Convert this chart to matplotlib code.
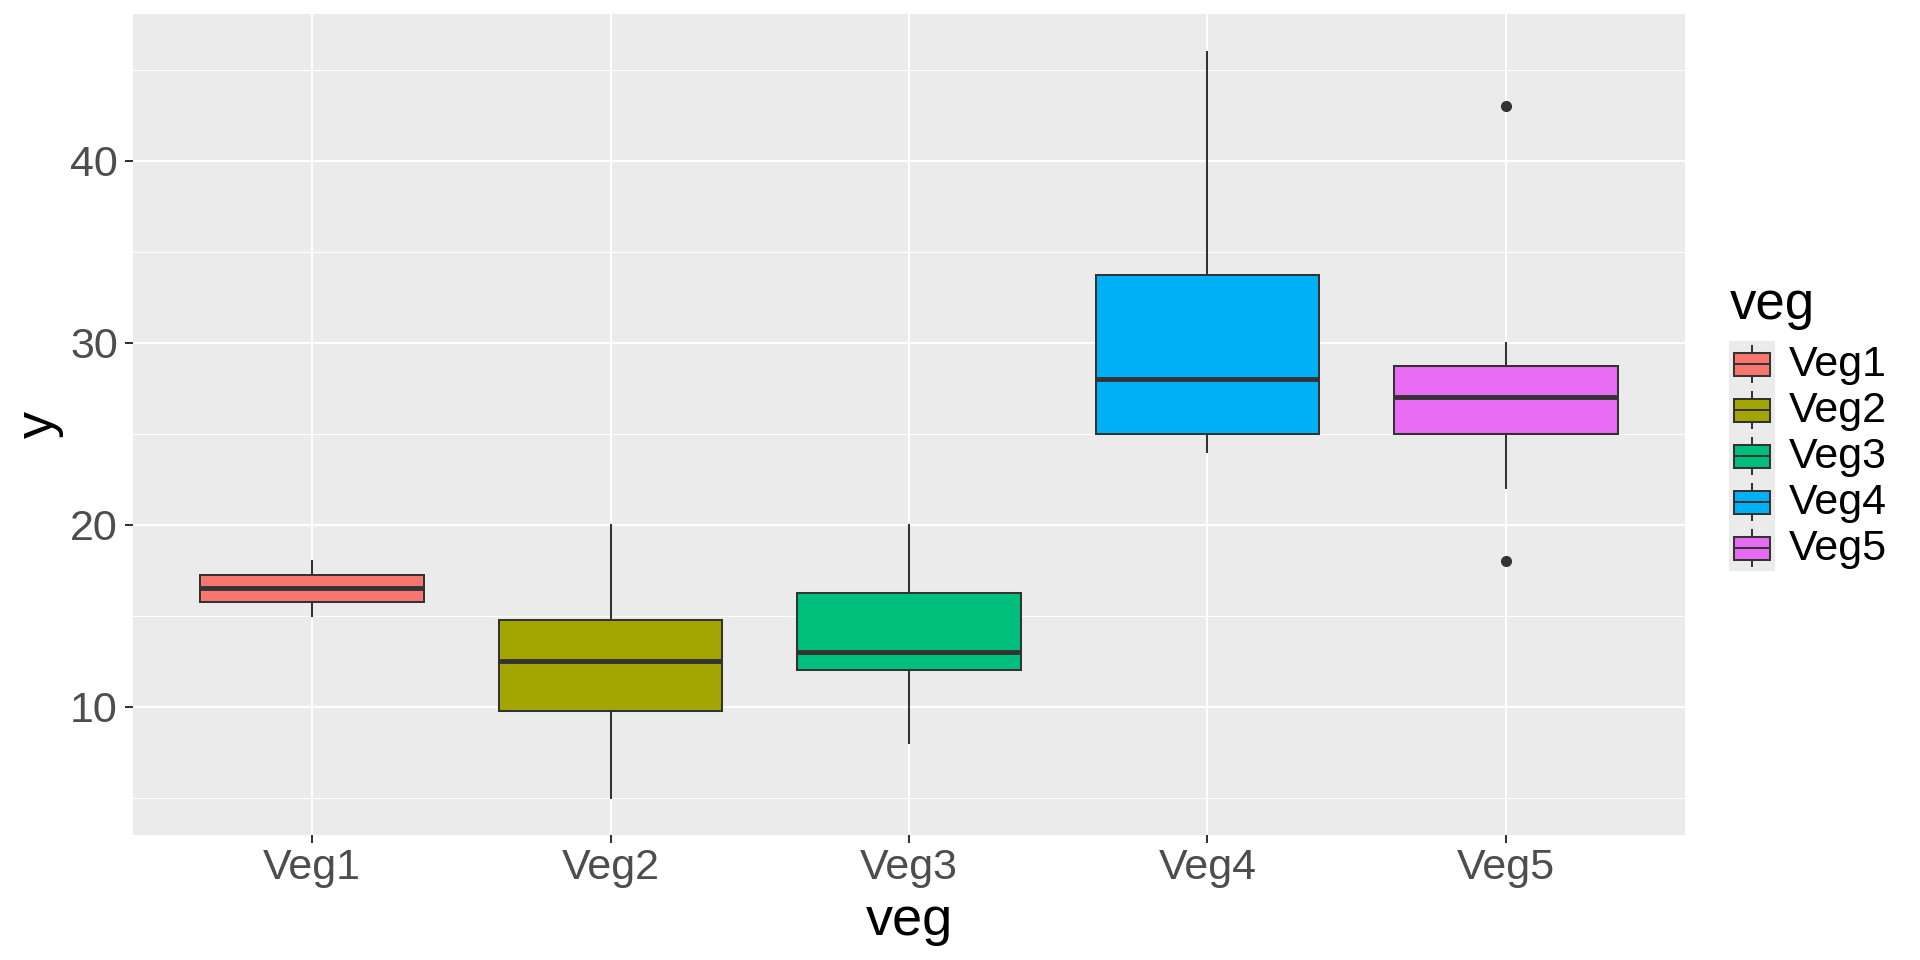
import matplotlib
matplotlib.use("Agg")
import matplotlib.pyplot as plt
from matplotlib.patches import Rectangle
from matplotlib.ticker import FixedLocator

plt.rcParams['font.family'] = ['Liberation Sans', 'DejaVu Sans']

# ---- data ----
categories = ["Veg1", "Veg2", "Veg3", "Veg4", "Veg5"]
whisker_low = [15, 5, 8, 24, 22]
q1 = [15.75, 9.75, 12, 25, 25]
medians = [16.5, 12.5, 13, 28, 27]
q3 = [17.25, 14.75, 16.25, 33.75, 28.75]
whisker_high = [18, 20, 20, 46, 30]
outliers = [[], [], [], [], [43, 18]]
colors = ["#F8766D", "#A3A500", "#00BF7D", "#00B0F6", "#E76BF3"]
y_ticks = [10, 20, 30, 40]
y_minor = [5, 15, 25, 35, 45]
x_title = "veg"
y_title = "y"
legend_title = "veg"

W, H = 1920, 960
fig = plt.figure(figsize=(W / 100, H / 100), dpi=100)
fig.patch.set_facecolor("white")

pl, pr, pt, pb = 133, 1685, 14.5, 835
ax = fig.add_axes([pl / W, 1 - pb / H, (pr - pl) / W, (pb - pt) / H])
ax.set_facecolor("#EBEBEB")
for s in ax.spines.values():
    s.set_visible(False)

positions = list(range(1, len(categories) + 1))
stats = []
for i, c in enumerate(categories):
    stats.append(dict(label=c, med=medians[i], q1=q1[i], q3=q3[i],
                      whislo=whisker_low[i], whishi=whisker_high[i],
                      fliers=outliers[i]))

edge = "#333333"
bp = ax.bxp(stats, positions=positions, widths=0.75, patch_artist=True,
            showcaps=False,
            boxprops=dict(edgecolor=edge, linewidth=1.45),
            whiskerprops=dict(color=edge, linewidth=1.45),
            medianprops=dict(color=edge, linewidth=3.5, solid_capstyle="butt"),
            flierprops=dict(marker="o", markerfacecolor=edge, markeredgecolor=edge,
                            markersize=7, linestyle="none"),
            zorder=3)
for patch, col in zip(bp["boxes"], colors):
    patch.set_facecolor(col)

ax.set_xlim(0.4, len(categories) + 0.6)
ymin, ymax = 5, 46
rng = ymax - ymin
ax.set_ylim(ymin - 0.05 * rng, ymax + 0.05 * rng)

ax.set_xticks(positions)
ax.set_xticklabels(categories)
ax.set_yticks(y_ticks)
ax.set_yticklabels([str(t) for t in y_ticks])
ax.yaxis.set_minor_locator(FixedLocator(y_minor))

ax.grid(True, which="major", color="white", linewidth=1.45, zorder=0)
ax.grid(True, which="minor", axis="y", color="white", linewidth=0.75, zorder=0)
ax.set_axisbelow(True)

ax.tick_params(axis="both", which="major", length=5.5, width=1.45, color=edge,
               labelsize=31, labelcolor="#4D4D4D")
ax.tick_params(axis="x", pad=3.5)
ax.tick_params(axis="y", pad=5.5)
ax.tick_params(axis="y", which="minor", length=0)

ax.set_xlabel(x_title, fontsize=39, color="black", va="baseline")
ax.xaxis.set_label_coords(0.5, (pb - 935) / (pb - pt))
ax.set_ylabel(y_title, fontsize=39, color="black", va="baseline")
ax.yaxis.set_label_coords((53 - pl) / (pr - pl), 0.5)

# ---- legend (ggplot-like) ----
kx, ky_top, kw, kh = 1729, 341, 46, 46
n = len(categories)
lax = fig.add_axes([kx / W, 1 - (ky_top + n * kh) / H, kw / W, n * kh / H])
lax.set_facecolor("#EBEBEB")
lax.set_xlim(0, 1)
lax.set_ylim(n, 0)
lax.set_xticks([])
lax.set_yticks([])
for s in lax.spines.values():
    s.set_visible(False)
for i, col in enumerate(colors):
    lax.add_patch(Rectangle((0.1, i + 0.25), 0.8, 0.5, facecolor=col,
                            edgecolor=edge, linewidth=1.45, zorder=3))
    lax.plot([0.1, 0.9], [i + 0.5, i + 0.5], color=edge, linewidth=1.45,
             solid_capstyle="butt", zorder=4)
    lax.plot([0.5, 0.5], [i + 0.1, i + 0.25], color=edge, linewidth=1.45, zorder=2)
    lax.plot([0.5, 0.5], [i + 0.75, i + 0.9], color=edge, linewidth=1.45, zorder=2)
    fig.text(1789 / W, 1 - (ky_top + i * kh + kh / 2 + 12) / H, categories[i],
             fontsize=31, color="black", ha="left", va="baseline")

fig.text(1730 / W, 1 - 319 / H, legend_title, fontsize=38, color="black",
         ha="left", va="baseline")

fig.savefig("out.png", dpi=100, facecolor="white")
